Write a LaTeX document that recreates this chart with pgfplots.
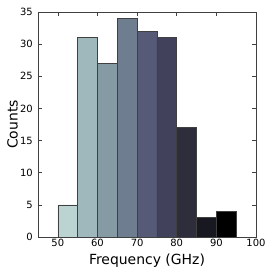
\documentclass[border=0pt]{standalone}
\usepackage{fontspec}
\setmainfont{DejaVu Sans}
\usepackage{pgfplots}
\pgfplotsset{compat=1.18}
\definecolor{c1}{RGB}{187,212,210}
\definecolor{c2}{RGB}{158,184,188}
\definecolor{c3}{RGB}{133,154,162}
\definecolor{c4}{RGB}{110,125,143}
\definecolor{c5}{RGB}{86,90,118}
\definecolor{c6}{RGB}{65,65,92}
\definecolor{c7}{RGB}{45,45,60}
\definecolor{c8}{RGB}{24,24,32}
\definecolor{c9}{RGB}{0,0,0}
\begin{document}
\begin{tikzpicture}
\begin{axis}[
  scale only axis,
  width=218bp, height=225bp,
  xmin=45, xmax=100, ymin=0, ymax=35,
  xtick={50,60,...,100}, ytick={0,5,...,35},
  tick align=inside,
  major tick length=4bp,
  axis line style={black!75, line width=0.6pt},
  every tick/.style={black!75, line width=0.6pt},
  /pgf/number format/assume math mode=true,
  ticklabel style={font=\fontsize{10}{12}\selectfont},
  xticklabel style={yshift=1.3bp},
  yticklabel style={xshift=-1.7bp},
  xlabel={Frequency (GHz)}, ylabel={Counts},
  label style={font=\fontsize{14}{16}\selectfont},
  xlabel style={at={(axis description cs:0.5,-0.104)}, anchor=center},
  ylabel style={at={(axis description cs:-0.117,0.5)}, anchor=center},
  every axis plot/.append style={draw=black!75, line width=0.5pt, mark=none, sharp plot},
]
\addplot[fill=c1] coordinates {(50,0) (50,5) (55,5) (55,0)} \closedcycle;
\addplot[fill=c2] coordinates {(55,0) (55,31) (60,31) (60,0)} \closedcycle;
\addplot[fill=c3] coordinates {(60,0) (60,27) (65,27) (65,0)} \closedcycle;
\addplot[fill=c4] coordinates {(65,0) (65,34) (70,34) (70,0)} \closedcycle;
\addplot[fill=c5] coordinates {(70,0) (70,32) (75,32) (75,0)} \closedcycle;
\addplot[fill=c6] coordinates {(75,0) (75,31) (80,31) (80,0)} \closedcycle;
\addplot[fill=c7] coordinates {(80,0) (80,17) (85,17) (85,0)} \closedcycle;
\addplot[fill=c8] coordinates {(85,0) (85,3) (90,3) (90,0)} \closedcycle;
\addplot[fill=c9] coordinates {(90,0) (90,4) (95,4) (95,0)} \closedcycle;
\coordinate (sw) at (rel axis cs:0,0);
\coordinate (ne) at (rel axis cs:1,1);
\end{axis}
\pgfresetboundingbox
\path ([shift={(-38bp,-36bp)}]sw) rectangle ([shift={(17bp,12bp)}]ne);
\end{tikzpicture}
\end{document}
